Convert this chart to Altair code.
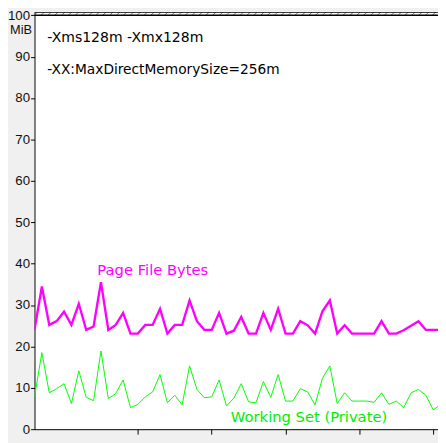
import altair as alt
import pandas as pd
import numpy as np

# ---- data ----
page_file_bytes = [24.0, 34.5, 25.2, 26.1, 28.4, 25.2, 30.3, 24.0, 24.8, 35.5,
                   24.0, 25.2, 28.1, 23.1, 23.1, 25.2, 25.2, 29.1, 23.1, 25.2,
                   25.2, 31.1, 26.1, 24.0, 24.0, 28.1, 23.1, 23.8, 27.1, 23.1,
                   23.1, 28.1, 24.0, 29.1, 23.1, 23.1, 26.1, 25.1, 23.1, 28.5,
                   31.1, 23.1, 25.1, 23.1, 23.1, 23.1, 23.1, 26.1, 23.1, 23.1,
                   23.9, 25.0, 26.1, 24.0, 24.0, 24.0]
working_set = [7.8, 18.5, 8.8, 9.8, 11.0, 6.2, 14.1, 7.7, 6.9, 18.9,
               7.4, 8.6, 11.9, 5.2, 6.0, 7.8, 9.0, 13.2, 6.4, 8.2,
               5.9, 15.3, 9.6, 7.6, 7.8, 11.9, 5.6, 7.5, 11.0, 6.6,
               6.4, 11.5, 7.7, 13.2, 6.8, 6.8, 9.8, 9.0, 5.9, 12.3,
               15.3, 6.2, 8.8, 6.8, 6.8, 6.8, 6.5, 8.8, 6.0, 6.8,
               5.2, 8.8, 9.6, 8.2, 4.7, 5.9]
y_ticks = [0, 10, 20, 30, 40, 50, 60, 70, 80, 90, 100]
x_ticks = [14, 24, 34, 44, 54]
annotations = ["-Xms128m -Xmx128m", "-XX:MaxDirectMemorySize=256m"]
series_labels = ["Page File Bytes", "Working Set (Private)"]

Y_TOP = 100.8
X_MAX = 54.65

idx = list(range(len(page_file_bytes)))
df = pd.DataFrame({
    "x": idx * 2,
    "y": page_file_bytes + working_set,
    "s": ["Page File Bytes"] * len(idx) + ["Working Set (Private)"] * len(idx),
})

xs = alt.Scale(domain=[0, X_MAX], nice=False, zero=False)
ys = alt.Scale(domain=[0, Y_TOP], nice=False, zero=True)
x_axis = alt.Axis(values=x_ticks, labels=False, title=None, grid=False,
                  ticks=True, tickSize=5, tickColor="black",
                  domainColor="black", domainWidth=1)
y_axis = alt.Axis(values=y_ticks, title="MiB", titleAngle=0,
                  titleX=-3, titleY=18, titleAlign="right",
                  titleBaseline="middle", titleFont="Liberation Sans",
                  titleFontSize=13, titleFontWeight="normal",
                  titleColor="#111111",
                  labelFont="Liberation Sans", labelFontSize=13.5,
                  labelColor="#111111", labelPadding=1,
                  tickSize=4, tickColor="black", grid=False,
                  domainColor="black", domainWidth=1)

# decorative hatch above 100
hx = np.arange(-1, X_MAX + 1, 0.93)
hatch_df = pd.DataFrame({"x": hx, "x2": hx + 0.5, "y": 100.0, "y2": Y_TOP})
hatch = alt.Chart(hatch_df).mark_rule(color="#555555", strokeWidth=0.8, clip=True).encode(
    x=alt.X("x:Q", scale=xs, axis=x_axis), x2="x2:Q",
    y=alt.Y("y:Q", scale=ys, axis=y_axis), y2="y2:Q")

borders_df = pd.DataFrame({"y": [100.0, Y_TOP]})
borders = alt.Chart(borders_df).mark_rule(color="black", strokeWidth=1.5, clip=True).encode(
    y=alt.Y("y:Q", scale=ys, axis=y_axis))

lines = alt.Chart(df).mark_line(clip=True, interpolate="linear").encode(
    x=alt.X("x:Q", scale=xs, axis=x_axis),
    y=alt.Y("y:Q", scale=ys, axis=y_axis),
    color=alt.Color("s:N", scale=alt.Scale(domain=series_labels,
                                            range=["#ff00ff", "#00ff00"]),
                    legend=None),
    strokeWidth=alt.StrokeWidth("s:N", scale=alt.Scale(domain=series_labels,
                                                        range=[2.4, 1.0]),
                                legend=None),
)

def label(text, px, py, color, size):
    return alt.Chart(pd.DataFrame({"t": [text]})).mark_text(
        align="left", baseline="middle", font="DejaVu Sans", fontSize=size, color=color
    ).encode(x=alt.value(px), y=alt.value(py), text="t:N")

ann1 = label(annotations[0], 13, 27, "black", 14.3)
ann2 = label(annotations[1], 13, 59, "black", 14)
lab1 = label(series_labels[0], 64, 263, "#ff00ff", 15)
lab2 = label(series_labels[1], 200, 413, "#00ee00", 15)

chart = alt.layer(lines, hatch, borders, ann1, ann2, lab1, lab2).properties(
    width=411, height=425,
    autosize=alt.AutoSizeParams(type="none"),
    padding={"left": 27, "top": 0, "right": 0, "bottom": 10},
    background="#f0f0f0",
).configure_view(fill="white", stroke=None)

chart.save("out.html", embed_options={"renderer": "svg", "actions": False})
